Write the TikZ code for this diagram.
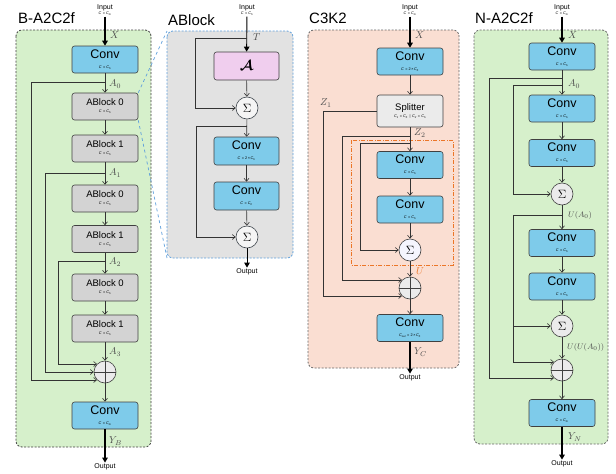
\documentclass[tikz,border=0pt]{standalone}
\usepackage{amsmath}
\usepackage{amssymb}
\usepackage{fontspec}
\setmainfont{Liberation Sans}
\usepackage{xcolor}
\usepackage{tikz}
\usetikzlibrary{arrows.meta}

\definecolor{convblue}{RGB}{126,203,234}
\definecolor{pgreen}{RGB}{214,240,203}
\definecolor{psalmon}{RGB}{250,222,210}
\definecolor{pgray}{RGB}{226,226,226}
\definecolor{blkgray}{RGB}{211,211,211}
\definecolor{attpink}{RGB}{240,206,238}
\definecolor{dblue}{RGB}{95,160,220}
\definecolor{dorange}{RGB}{236,118,40}

% small channel line under a block name
\newcommand{\cinfo}[1]{\\[-3pt]{\fontsize{3.8}{4}\selectfont #1}}
\newcommand{\cs}[2]{\textit{#1}\textsubscript{\textit{#2}}}

\begin{document}
\begin{tikzpicture}[
  x=1pt,y=-1pt,
  blk/.style={draw=black!75,line width=0.6pt,rounded corners=2.5pt,
              minimum width=66pt,minimum height=27pt,inner sep=0pt,
              align=center,font=\fontsize{12.5}{13}\selectfont},
  conv/.style={blk,fill=convblue},
  ablk/.style={blk,fill=blkgray,font=\fontsize{9.5}{10}\selectfont},
  splt/.style={blk,fill=black!8,minimum height=32pt,font=\fontsize{9.5}{10}\selectfont},
  sumc/.style={circle,draw=black!75,line width=0.6pt,fill=black!8,
               minimum size=22pt,inner sep=0pt,font=\large},
  lbl/.style={font=\fontsize{10}{11}\selectfont,text=black!70,anchor=west,inner sep=1pt},
  io/.style={font=\fontsize{7}{8}\selectfont,align=center,inner sep=1pt},
  ttl/.style={font=\fontsize{15}{16}\selectfont,anchor=west,inner sep=0pt},
  ln/.style={draw=black!80,line width=0.6pt,-{Straight Barb[length=3pt,width=5pt]}},
  big/.style={line width=1.3pt,-{Triangle[length=5pt,width=5.5pt]}},
  pnl/.style={dash pattern=on 2pt off 1.5pt,rounded corners=6pt,line width=0.8pt}
]
\useasboundingbox (0,0) rectangle (616,474);

% ---- panels ----
\draw[pnl,fill=pgreen,draw=black!75] (16,30) rectangle (151,447);
\draw[pnl,fill=pgray,draw=dblue] (167,31) rectangle (293,258);
\draw[pnl,fill=psalmon,draw=black!60] (308,30) rectangle (459,368);
\draw[pnl,fill=pgreen,draw=black!60] (474,30) rectangle (608,444);
\coordinate (g2nw) at (167,31);
\coordinate (g2sw) at (167,258);
\node[ttl] (t1) at (18,18)  {B-A2C2f};
\node[ttl] (t2) at (168,20) {ABlock};
\node[ttl] (t3) at (309,18) {C3K2};
\node[ttl] (t4) at (475,18) {N-A2C2f};

% ---- (1) B-A2C2f ----
\node[io] (in1) at (105,10) {Input\cinfo{\cs{C}{} = \cs{C}{in}}};
\node[conv] (c1)  at (105,59.5)  {Conv\cinfo{\cs{C}{} = \cs{C}{h}}};
\node[ablk] (ab0) at (105,106.5) {ABlock 0\cinfo{\cs{C}{} = \cs{C}{h}}};
\node[ablk] (ab1) at (105,148.5) {ABlock 1\cinfo{\cs{C}{} = \cs{C}{h}}};
\node[ablk] (ab2) at (105,198.5) {ABlock 0\cinfo{\cs{C}{} = \cs{C}{h}}};
\node[ablk] (ab3) at (105,239)   {ABlock 1\cinfo{\cs{C}{} = \cs{C}{h}}};
\node[ablk] (ab4) at (105,287.5) {ABlock 0\cinfo{\cs{C}{} = \cs{C}{h}}};
\node[ablk] (ab5) at (105,328.5) {ABlock 1\cinfo{\cs{C}{} = \cs{C}{h}}};
\node[sumc] (ad1) at (105,372) {};
\node[conv] (c2)  at (105,415.5) {Conv\cinfo{\cs{C}{} = \cs{C}{in}}};
\node[io] (out1) at (105,467) {Output};
\draw[dblue,dashed,line width=0.7pt] (ab0.north east) -- (g2nw) (ab0.south east) -- (g2sw);
\draw[big] (in1) -- (c1);
\draw[ln] (c1) -- (ab0);
\draw[ln] (ab0) -- (ab1);
\draw[ln] (ab1) -- (ab2);
\draw[ln] (ab2) -- (ab3);
\draw[ln] (ab3) -- (ab4);
\draw[ln] (ab4) -- (ab5);
\draw[ln] (ab5) -- (ad1);
\draw[ln] (ad1) -- (c2);
\draw[big] (c2) -- (out1);
\coordinate (p0) at (105,82);  \coordinate (k0) at (31,82);
\coordinate (p1) at (105,173); \coordinate (k1) at (45,173);
\coordinate (p2) at (105,261); \coordinate (k2) at (58,261);
\draw[ln] (p0) -- (k0) |- (ad1.south west);
\draw[ln] (p1) -- (k1) |- (ad1.west);
\draw[ln] (p2) -- (k2) |- (ad1.north west);
\draw[black!75,line width=0.6pt] (ad1.north) -- (ad1.south) (ad1.west) -- (ad1.east);
\node[lbl] (lx1) at (109,35)  {$X$};
\node[lbl] (la0) at (108,84)  {$A_0$};
\node[lbl] (la1) at (108,173) {$A_1$};
\node[lbl] (la2) at (108,262) {$A_2$};
\node[lbl] (la3) at (108,352) {$A_3$};
\node[lbl] (lyb) at (108,441) {$Y_B$};

% ---- (2) ABlock ----
\node[io] (in2) at (247,10) {Input\cinfo{\cs{C}{} = \cs{C}{h}}};
\node[blk,fill=attpink,minimum width=65pt,minimum height=28pt,font=\Large] (att) at (246.5,66) {$\boldsymbol{\mathcal{A}}$};
\node[sumc,fill=white!96!black,draw=black!80!cyan] (s1) at (247,108) {$\Sigma$};
\node[conv,minimum width=65pt,minimum height=28pt] (c3) at (246.5,151) {Conv\cinfo{\cs{C}{} = 2\,×\,\cs{C}{h}}};
\node[conv,minimum width=65pt,minimum height=28pt] (c4) at (246.5,196) {Conv\cinfo{\cs{C}{} = \cs{C}{h}}};
\node[sumc,fill=white!96!black,draw=black!80!cyan] (s2) at (247,237) {$\Sigma$};
\node[io] (out2) at (247,272) {Output};
\draw[big,line width=0.9pt] (in2) -- (att);
\draw[ln] (att) -- (s1);
\draw[ln] (s1) -- (c3);
\draw[ln] (c3) -- (c4);
\draw[ln] (c4) -- (s2);
\draw[big,line width=0.9pt] (s2) -- (out2);
\coordinate (q0) at (247,38);  \coordinate (kq0) at (195,38);
\coordinate (q1) at (247,126); \coordinate (kq1) at (196,126);
\draw[ln] (q0) -- (kq0) |- (s1);
\draw[ln] (q1) -- (kq1) |- (s2);
\node[lbl] (lt) at (252,37) {$T$};

% ---- (3) C3K2 ----
\draw[dorange,line width=0.8pt,dash pattern=on 4pt off 1.5pt on 1pt off 1.5pt] (351,140) rectangle (453,265);
\node[io] (in3) at (410,10) {Input\cinfo{\cs{C}{} = \cs{C}{in}}};
\node[conv] (c5) at (410,61.5) {Conv\cinfo{\cs{C}{} = 2\,×\,\cs{C}{h}}};
\node[splt] (sp) at (410,111) {Splitter\cinfo{\cs{C}{1} = \cs{C}{h} \,|\, \cs{C}{2} = \cs{C}{h}}};
\node[conv] (c6) at (410,165) {Conv\cinfo{\cs{C}{} = \cs{C}{h}}};
\node[conv] (c7) at (410,209.5) {Conv\cinfo{\cs{C}{} = \cs{C}{h}}};
\node[sumc,fill=black!6!blue!4] (s3) at (410,250) {$\Sigma$};
\node[sumc] (ad2) at (410,288) {};
\node[conv] (c8) at (410,328) {Conv\cinfo{\cs{C}{out} = 2\,×\,\cs{C}{h}}};
\node[io] (out3) at (410,378) {Output};
\draw[big] (in3) -- (c5);
\draw[ln] (c5) -- (sp);
\draw[ln] (sp) -- (c6);
\draw[ln] (c6) -- (c7);
\draw[ln] (c7) -- (s3);
\draw[ln] (s3) -- (ad2);
\draw[ln] (ad2) -- (c8);
\draw[big] (c8) -- (out3);
\coordinate (kz1) at (323,111);
\coordinate (z2) at (410,136); \coordinate (kz2) at (342,136);
\coordinate (z3) at (410,143); \coordinate (kz3) at (360,143);
\draw[ln] (sp.west) -- (kz1) |- (ad2.south west);
\draw[ln] (z2) -- (kz2) |- (ad2.north west);
\draw[ln] (z3) -- (kz3) |- (s3);
\draw[black!75,line width=0.6pt] (ad2.north) -- (ad2.south) (ad2.west) -- (ad2.east);
\node[lbl] (lx3) at (414,35) {$X$};
\node[lbl] (lz1) at (319,103) {$Z_1$};
\node[lbl] (lz2) at (413,133) {$Z_2$};
\node[lbl,text=dorange] (lu) at (415,271) {$U$};
\node[lbl] (lyc) at (413,352) {$Y_C$};

% ---- (4) N-A2C2f ----
\node[io] (in4) at (562,10) {Input\cinfo{\cs{C}{} = \cs{C}{in}}};
\node[conv] (c9)  at (562,56.5)  {Conv\cinfo{\cs{C}{} = \cs{C}{h}}};
\node[conv] (c10) at (562,108.5) {Conv\cinfo{\cs{C}{} = \cs{C}{h}}};
\node[conv] (c11) at (562,153)   {Conv\cinfo{\cs{C}{} = \cs{C}{h}}};
\node[sumc] (s4) at (562,194) {$\Sigma$};
\node[conv] (c12) at (562,243)   {Conv\cinfo{\cs{C}{} = \cs{C}{h}}};
\node[conv] (c13) at (562,286.5) {Conv\cinfo{\cs{C}{} = \cs{C}{h}}};
\node[sumc] (s5) at (562,326) {$\Sigma$};
\node[sumc] (ad3) at (562,370) {};
\node[conv] (c14) at (562,413) {Conv\cinfo{\cs{C}{} = \cs{C}{in}}};
\node[io] (out4) at (562,464) {Output};
\draw[big] (in4) -- (c9);
\draw[ln] (c9) -- (c10);
\draw[ln] (c10) -- (c11);
\draw[ln] (c11) -- (s4);
\draw[ln] (s4) -- (c12);
\draw[ln] (c12) -- (c13);
\draw[ln] (c13) -- (s5);
\draw[ln] (s5) -- (ad3);
\draw[ln] (ad3) -- (c14);
\draw[big] (c14) -- (out4);
\coordinate (n1) at (562,78);  \coordinate (kn1) at (489,78);
\coordinate (n2) at (562,85);  \coordinate (kn2) at (513,85);
\coordinate (n3) at (562,215); \coordinate (kn3) at (513,215);
\draw[ln] (n1) -- (kn1) |- (ad3.south west);
\draw[ln] (n2) -- (kn2) |- (s4);
\draw[ln] (n3) -- (kn3) |- (ad3.north west);
\draw[ln] (kn3 |- s5) -- (s5);
\draw[black!75,line width=0.6pt] (ad3.north) -- (ad3.south) (ad3.west) -- (ad3.east);
\node[lbl] (lx4) at (567,35)  {$X$};
\node[lbl] (lb0) at (567,84)  {$A_0$};
\node[lbl,font=\fontsize{8.5}{9}\selectfont] (lu1) at (567,215) {$U(A_0)$};
\node[lbl,font=\fontsize{8.5}{9}\selectfont] (lu2) at (566,347) {$U(U(A_0))$};
\node[lbl] (lyn) at (567,437) {$Y_N$};
\end{tikzpicture}
\end{document}
